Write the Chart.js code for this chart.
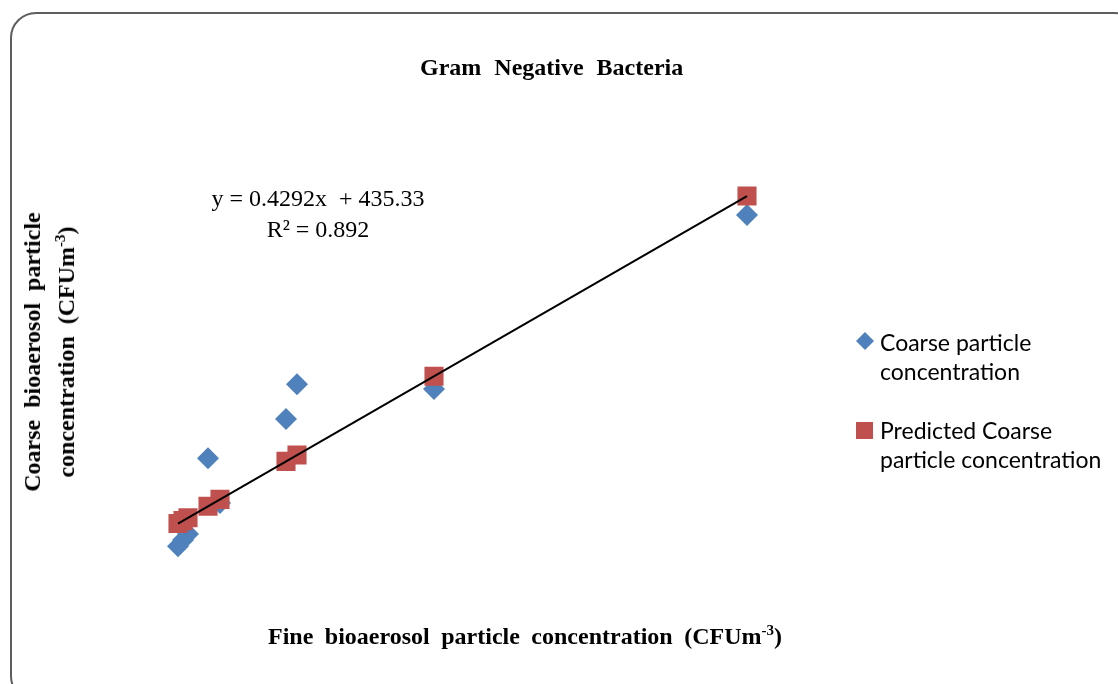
<!DOCTYPE html>
<html>
<head>
<meta charset="utf-8">
<script src="https://cdn.jsdelivr.net/npm/chart.js@4.4.0/dist/chart.umd.min.js"></script>
<style>
  body { margin: 0; background: #fff; }
  .wrap { position: relative; width: 1118px; height: 684px; overflow: hidden; }
  .frame { position: absolute; left: 10px; top: 12px; width: 1130px; height: 690px;
    border: 2px solid #5e5e5e; border-radius: 26px; box-sizing: border-box; }
  canvas { position: absolute; left: 0; top: 0; }
  .txt { position: absolute; white-space: nowrap; color: #000; }
  .serif { font-family: "Liberation Serif", "Times New Roman", serif; }
  .title { left: 420px; top: 54px; font-size: 24px; font-weight: bold; word-spacing: 7px; }
  .eq { left: 190px; width: 256px; top: 183px; text-align: center; font-size: 24px; line-height: 31px; }
  .xt { left: 268px; top: 622px; font-size: 24px; font-weight: bold; word-spacing: 5.5px; }
  .yt { left: 49px; top: 352px; font-size: 24px; font-weight: bold; word-spacing: 6px; text-align: center;
    line-height: 28px; transform: translate(-50%, -50%) rotate(-90deg); }
  .legend { left: 856px; font-family: Lato, "Open Sans", sans-serif; font-size: 23px; line-height: 29px; }
  .legend .mk { position: absolute; left: 0; }
  .legend .lb { position: absolute; left: 24px; top: 0; }
</style>
</head>
<body>
<div class="wrap">
  <div class="frame"></div>
  <canvas id="chart" width="1118" height="684"></canvas>
  <div class="txt serif title">Gram Negative Bacteria</div>
  <div class="txt serif eq">y = 0.4292x &nbsp;+ 435.33<br>R² = 0.892</div>
  <div class="txt serif xt">Fine bioaerosol particle concentration (CFUm<sup style="font-size:15px">-3</sup>)</div>
  <div class="txt serif yt">Coarse bioaerosol particle<br>concentration (CFUm<sup style="font-size:15px">-3</sup>)</div>
  <div class="txt legend" style="top:328px">
    <svg class="mk" style="top:4px" width="18" height="18"><polygon points="9,0 18,9 9,18 0,9" fill="#4F81BD"/></svg>
    <div class="lb">Coarse particle<br>concentration</div>
  </div>
  <div class="txt legend" style="top:416px">
    <svg class="mk" style="top:6px" width="18" height="18"><rect x="0" y="0" width="17" height="17" fill="#C0504D"/></svg>
    <div class="lb">Predicted Coarse<br>particle concentration</div>
  </div>
</div>
<script>
// fine particle concentration (x)
const fine = [100, 125, 150, 250, 310, 640, 695, 1380, 2945];
// coarse particle concentration (observed)
const coarse = [394, 417, 439, 722, 555, 868, 998, 980, 1629];
// predicted coarse concentration (on trendline)
const predicted = [478.25, 488.98, 499.71, 542.63, 568.38, 710.02, 733.62, 1027.63, 1699.33];
// trendline end points
const trendX = [100, 2945];
const trendY = [478.25, 1699.33];

const toPts = (xs, ys) => xs.map((x, i) => ({ x: x, y: ys[i] }));

new Chart(document.getElementById("chart"), {
  type: "scatter",
  data: {
    datasets: [
      {
        label: "Linear",
        data: toPts(trendX, trendY),
        showLine: true,
        borderColor: "#000",
        borderWidth: 2,
        pointRadius: 0,
        order: 0,
      },
      {
        label: "Predicted Coarse particle concentration",
        data: toPts(fine, predicted),
        pointStyle: "rect",
        pointRadius: 13.5,
        backgroundColor: "#C0504D",
        borderColor: "#C0504D",
        borderWidth: 0,
        order: 1,
      },
      {
        label: "Coarse particle concentration",
        data: toPts(fine, coarse),
        pointStyle: "rectRot",
        pointRadius: 11,
        backgroundColor: "#4F81BD",
        borderColor: "#4F81BD",
        borderWidth: 0,
        order: 2,
      },
    ],
  },
  options: {
    responsive: false,
    animation: false,
    layout: { padding: { left: 158, right: 260, top: 115.4, bottom: 32.2 } },
    plugins: { legend: { display: false }, title: { display: false }, tooltip: { enabled: false } },
    scales: {
      x: { type: "linear", min: 0, max: 3500, display: false },
      y: { type: "linear", min: 0, max: 2000, display: false },
    },
  },
});
</script>
</body>
</html>
